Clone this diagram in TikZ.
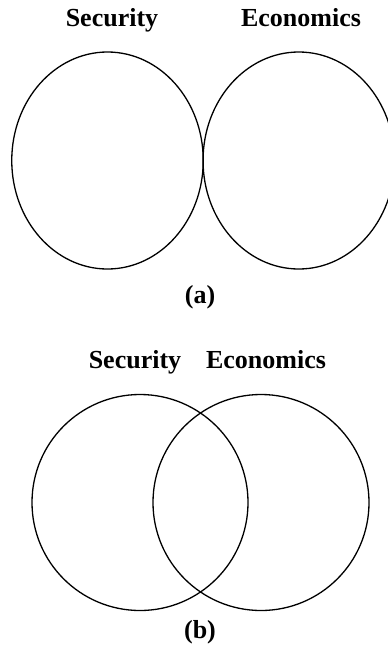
\documentclass[tikz,border=0pt]{standalone}
\usepackage{fontspec}
\setmainfont{Liberation Serif}
\usetikzlibrary{shapes.geometric}
\begin{document}
\begin{tikzpicture}[x=1pt,y=-1pt,
  lbl/.style={font=\fontsize{26}{30}\selectfont\bfseries, anchor=base, inner sep=0pt},
  setshape/.style={draw, line width=1.3pt, ellipse, inner sep=0pt, outer sep=0pt}]
\useasboundingbox (0,0) rectangle (388,651);
% (a)
\node[lbl] (secA) at (112,26) {Security};
\node[lbl] (ecoA) at (301,26) {Economics};
\node[setshape, minimum width=191.5pt, minimum height=217pt] (ellA1) at (107.5,160.5) {};
\node[setshape, minimum width=191.5pt, minimum height=217pt] (ellA2) at (298.8,160.5) {};
\node[lbl] (capA) at (200,303) {(a)};
% (b)
\node[lbl] (secB) at (135,368) {Security};
\node[lbl] (ecoB) at (266,368) {Economics};
\node[setshape, circle, minimum size=216pt] (cirB1) at (140,502.5) {};
\node[setshape, circle, minimum size=216pt] (cirB2) at (261,502.5) {};
\node[lbl] (capB) at (200,638) {(b)};
\end{tikzpicture}
\end{document}
